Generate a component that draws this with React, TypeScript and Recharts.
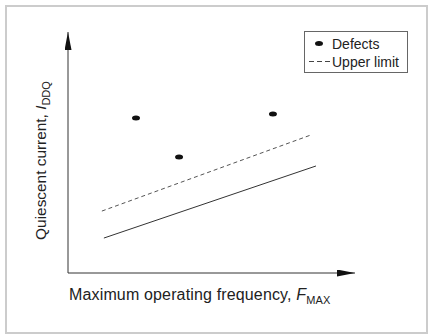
import React from "react";
import { ComposedChart, XAxis, YAxis, Line, Scatter, Legend } from "recharts";

// Data (arbitrary units, 0-100 on both axes)
const upperLimitX = [11.8, 84.7];
const upperLimitY = [25.7, 57.3];
const baselineX = [12.5, 86.4];
const baselineY = [14.5, 44.4];
const defectX = [23.7, 38.7, 71.4];
const defectY = [64.3, 48.1, 66.0];
const seriesNames = ["Defects", "Upper limit"];

const upperLimitData = upperLimitX.map((x, i) => ({ x, y: upperLimitY[i] }));
const baselineData = baselineX.map((x, i) => ({ x, y: baselineY[i] }));
const defectData = defectX.map((x, i) => ({ x, y: defectY[i] }));

const FONT = '"Liberation Sans", Arial, Helvetica, sans-serif';
const INK = "#222";

const XLabel = (props: any) => {
  const vb = props.viewBox || {};
  return (
    <text x={vb.x + 1} y={vb.y + 27} fill={INK} fontSize={16} letterSpacing={0.15} fontFamily={FONT} textAnchor="start">
      <tspan>Maximum operating frequency, </tspan>
      <tspan fontStyle="italic">F</tspan>
      <tspan fontSize={11} dy={4}>MAX</tspan>
    </text>
  );
};

const YLabel = (props: any) => {
  const vb = props.viewBox || {};
  const cx = vb.x + 46;
  const cy = vb.y + vb.height / 2 + 8;
  return (
    <text transform={`translate(${cx},${cy}) rotate(-90)`} x={0} y={0} fill={INK} fontSize={15.4} fontFamily={FONT} textAnchor="middle">
      <tspan>Quiescent current, </tspan>
      <tspan fontStyle="italic">I</tspan>
      <tspan fontSize={11} dy={4}>DDQ</tspan>
    </text>
  );
};

const DefectShape = (props: any) => {
  const { cx, cy } = props;
  if (cx == null || cy == null) return null;
  return <ellipse cx={cx} cy={cy} rx={4} ry={2.5} fill="#111" />;
};

const LegendBox = () => (
  <div
    style={{
      position: "relative",
      width: 104,
      height: 42,
      boxSizing: "border-box",
      border: "1px solid #666",
      background: "#fff",
      fontFamily: FONT,
      fontSize: 14,
      color: INK,
    }}
  >
    <svg width={30} height={42} style={{ position: "absolute", left: 0, top: 0 }}>
      <ellipse cx={14} cy={11.5} rx={4} ry={2.5} fill="#111" />
      <line x1={4} y1={29.5} x2={26} y2={29.5} stroke="#444" strokeWidth={1} strokeDasharray="5 3" />
    </svg>
    <div style={{ position: "absolute", left: 27, top: 3, lineHeight: "18px", whiteSpace: "nowrap" }}>{seriesNames[0]}</div>
    <div style={{ position: "absolute", left: 27, top: 21, lineHeight: "18px", whiteSpace: "nowrap" }}>{seriesNames[1]}</div>
  </div>
);

export default function App() {
  return (
    <div style={{ position: "absolute", left: 0, top: 0, width: 428, height: 334, background: "#fff" }}>
      <div
        style={{
          position: "absolute",
          left: 5,
          top: 5,
          width: 423,
          height: 329,
          boxSizing: "border-box",
          border: "2px solid #cccccc",
        }}
      />
      <div style={{ position: "absolute", left: 0, top: 0 }}>
        <ComposedChart width={428} height={334} margin={{ top: 32, right: 73, left: 0, bottom: 0 }}>
          <defs>
            <marker id="arrowHead" viewBox="0 0 18 7" refX={18} refY={3.5} markerWidth={18} markerHeight={7} markerUnits="userSpaceOnUse" orient="auto-start-reverse">
              <path d="M0,0 L18,3.5 L0,7 Z" fill="#111" />
            </marker>
          </defs>
          <XAxis
            type="number"
            dataKey="x"
            domain={[0, 100]}
            height={61}
            tick={false}
            tickLine={false}
            axisLine={{ stroke: "#333", strokeWidth: 1, markerEnd: "url(#arrowHead)" } as any}
            label={<XLabel />}
          />
          <YAxis
            type="number"
            dataKey="y"
            domain={[0, 100]}
            width={68}
            tick={false}
            tickLine={false}
            axisLine={{ stroke: "#333", strokeWidth: 1, markerStart: "url(#arrowHead)" } as any}
            label={<YLabel />}
          />
          <Line
            data={baselineData}
            dataKey="y"
            type="linear"
            stroke="#333"
            strokeWidth={1}
            dot={false}
            activeDot={false}
            isAnimationActive={false}
            legendType="none"
          />
          <Line
            data={upperLimitData}
            dataKey="y"
            type="linear"
            stroke="#555"
            strokeWidth={1}
            strokeDasharray="4 3"
            dot={false}
            activeDot={false}
            isAnimationActive={false}
            name={seriesNames[1]}
          />
          <Scatter data={defectData} dataKey="y" shape={<DefectShape />} isAnimationActive={false} name={seriesNames[0]} />
          <Legend
            layout="vertical"
            align="center"
            verticalAlign="middle"
            content={<LegendBox />}
            wrapperStyle={{ position: "absolute", left: 304, top: 31, width: 104, height: 42 }}
          />
        </ComposedChart>
      </div>
    </div>
  );
}
